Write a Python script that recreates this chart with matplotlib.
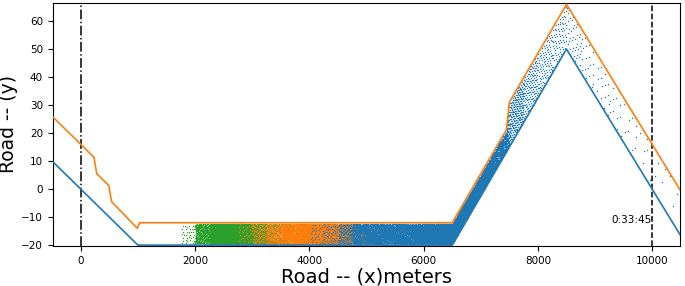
import matplotlib
matplotlib.use('Agg')
import matplotlib.pyplot as plt
import numpy as np

# road boundaries (x in meters, y)
lower_x = [-500, 1000, 6500, 8500, 10500]
lower_y = [10, -20, -20, 50, -16.7]
upper_x = [-500, 230, 280, 490, 540, 990, 1030, 6500, 7450, 7500, 8500, 10500]
upper_y = [26, 11.4, 5.5, 1.3, -4.5, -14, -12, -12, 21.25, 31, 66, -0.7]

# vehicle positions: number of dots per 250 m bin
bin_edges = [1750, 2000, 2250, 2500, 2750, 3000, 3250, 3500, 3750, 4000, 4250,
             4500, 4750, 5000, 5250, 5500, 5750, 6000, 6250, 6500, 6750, 7000,
             7250, 7500, 7750, 8000, 8250, 8500, 8750, 9000, 9250, 9500, 9750,
             10000, 10250, 10500]
green_counts = [35, 300, 650, 750, 700, 420, 280, 220, 180, 150, 80, 30, 15, 0, 0,
                0, 0, 0, 0, 0, 0, 0, 0, 0, 0, 0, 0, 0, 0, 0, 0, 0, 0, 0, 0]
orange_counts = [0, 0, 0, 0, 30, 110, 200, 350, 450, 580, 700, 560, 220, 110, 80,
                 55, 30, 15, 0, 0, 0, 0, 0, 0, 0, 0, 0, 0, 0, 0, 0, 0, 0, 0, 0]
blue_counts = [0, 0, 0, 0, 0, 0, 0, 0, 0, 30, 60, 140, 330, 420, 450, 490, 560,
               700, 850, 850, 700, 560, 400, 250, 150, 100, 75, 40, 20, 15, 12, 9,
               7, 4, 3]

# R2 low-discrepancy constants, used only to lay dots evenly inside each bin
g = 1.32471795724474602596
a1, a2 = 1 / g, 1 / g ** 2


def spread(counts, start):
    xs, ys = [], []
    k = start
    for i, c in enumerate(counts):
        if c == 0:
            continue
        n = np.arange(k, k + c)
        k += c + 3
        u = (0.5 + a1 * n) % 1
        v = (0.5 + a2 * n) % 1
        x = bin_edges[i] + u * (bin_edges[i + 1] - bin_edges[i])
        lo = np.interp(x, lower_x, lower_y) + 0.4
        hi = np.interp(x, upper_x, upper_y) - 0.4
        xs.append(x)
        ys.append(lo + v * (hi - lo))
    return np.concatenate(xs), np.concatenate(ys)


fig, ax = plt.subplots(figsize=(6.85, 2.86), dpi=100)

for counts, color, start in [(green_counts, 'tab:green', 11),
                             (orange_counts, 'tab:orange', 20001),
                             (blue_counts, 'tab:blue', 40001)]:
    sx, sy = spread(counts, start)
    ax.scatter(sx, sy, s=1.0, c=color, linewidths=0, zorder=1)

ax.plot(lower_x, lower_y, color='tab:blue', lw=1.2, zorder=3)
ax.plot(upper_x, upper_y, color='tab:orange', lw=1.2, zorder=3)
ax.axvline(0, color='black', ls='-.', lw=1.1)
ax.axvline(10000, color='black', ls='--', lw=1.1)
ax.text(9990, -11, '0:33:45', ha='right', va='center', fontsize=7.5)

ax.set_xlim(-490, 10490)
ax.set_ylim(-20.3, 66.5)
ax.set_xlabel('Road -- (x)meters', fontsize=14, labelpad=1)
ax.set_ylabel('Road -- (y)', fontsize=13.5, labelpad=2)
ax.tick_params(labelsize=7.5)

plt.subplots_adjust(left=0.077, right=0.993, top=0.99, bottom=0.14)
plt.savefig('out.png', dpi=100)
